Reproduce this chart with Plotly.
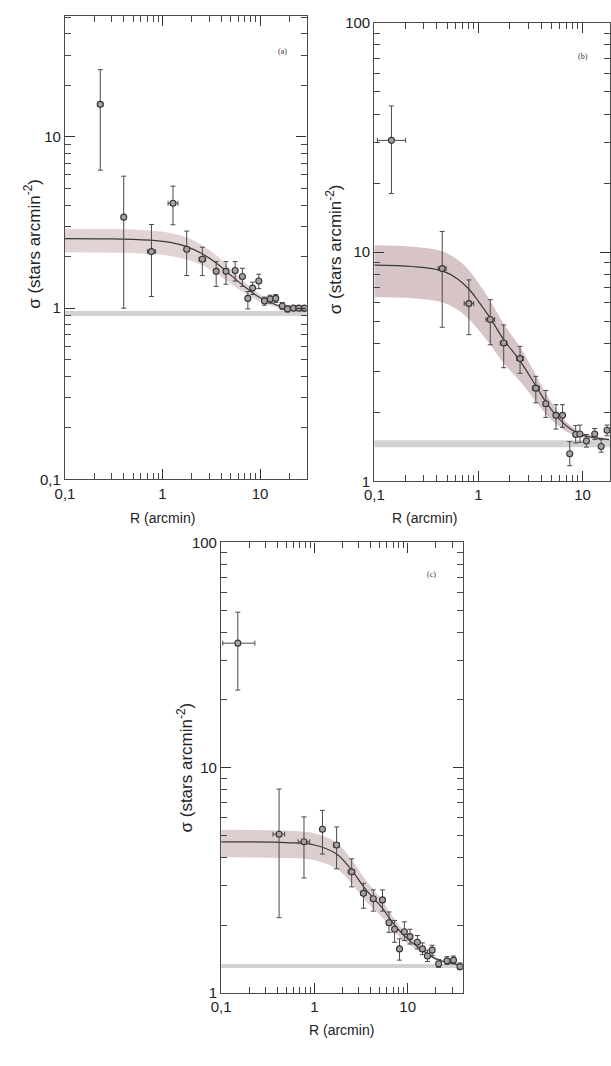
import plotly.graph_objects as go

W, H = 611, 1066

# ---------------- Panel (a) ----------------
a_R     = [0.23, 0.40, 0.77, 1.28, 1.77, 2.56, 3.55, 4.47, 5.56, 6.6, 7.5, 8.4, 9.7, 11.1, 12.7, 14.5, 16.9, 19.1, 22.0, 24.9, 28.6]
a_R_lo  = [0.215, 0.40, 0.70, 1.14, 1.68, 2.37, 3.35, 4.25, 5.3, 6.35, 7.2, 8.05, 9.3, 10.7, 12.2, 14.0, 16.3, 18.5, 21.2, 24.0, 27.6]
a_R_hi  = [0.245, 0.40, 0.85, 1.44, 1.87, 2.77, 3.75, 4.7, 5.8, 6.85, 7.8, 8.75, 10.1, 11.5, 13.2, 15.0, 17.5, 19.7, 22.8, 25.8, 29.6]
a_S     = [15.5, 3.4, 2.14, 4.1, 2.21, 1.93, 1.64, 1.64, 1.66, 1.53, 1.14, 1.31, 1.44, 1.10, 1.13, 1.14, 1.03, 0.99, 1.00, 1.00, 1.00]
a_S_hi  = [24.7, 5.9, 3.08, 5.16, 2.82, 2.27, 1.87, 1.87, 1.87, 1.71, 1.25, 1.42, 1.58, 1.16, 1.19, 1.20, 1.08, 1.03, 1.03, 1.03, 1.03]
a_S_lo  = [6.4, 1.0, 1.17, 3.07, 1.55, 1.55, 1.34, 1.38, 1.44, 1.34, 0.99, 1.20, 1.30, 1.04, 1.07, 1.08, 0.98, 0.95, 0.97, 0.97, 0.97]
a_bg = 0.93
a_fit_R  = [0.1, 0.3, 0.5, 0.8, 1.2, 1.8, 2.5, 3.5, 5, 7, 10, 15, 20, 30]
a_fit    = [2.55, 2.54, 2.52, 2.49, 2.42, 2.28, 2.09, 1.85, 1.56, 1.33, 1.15, 1.04, 0.99, 0.96]
a_fit_up = [2.91, 2.90, 2.88, 2.83, 2.75, 2.58, 2.35, 2.05, 1.70, 1.42, 1.20, 1.06, 1.01, 0.96]
a_fit_dn = [2.12, 2.11, 2.10, 2.07, 2.02, 1.92, 1.79, 1.60, 1.39, 1.22, 1.09, 1.01, 0.98, 0.95]

# ---------------- Panel (b) ----------------
b_R     = [0.146, 0.449, 0.81, 1.30, 1.75, 2.51, 3.56, 4.44, 5.56, 6.43, 7.54, 8.6, 9.44, 10.9, 13.1, 15.1, 17.2]
b_R_lo  = [0.107, 0.41, 0.73, 1.18, 1.62, 2.33, 3.30, 4.20, 5.30, 6.2, 7.54, 8.3, 9.1, 10.5, 12.7, 14.7, 16.7]
b_R_hi  = [0.200, 0.49, 0.90, 1.43, 1.88, 2.70, 3.85, 4.70, 5.80, 6.7, 7.54, 8.9, 9.8, 11.3, 13.5, 15.5, 17.7]
b_S     = [30.7, 8.47, 5.96, 5.08, 4.01, 3.43, 2.55, 2.18, 1.94, 1.94, 1.32, 1.60, 1.61, 1.50, 1.61, 1.42, 1.67]
b_S_hi  = [43.4, 12.3, 7.56, 6.2, 4.81, 3.88, 2.87, 2.49, 2.16, 2.16, 1.49, 1.75, 1.76, 1.60, 1.70, 1.52, 1.76]
b_S_lo  = [18.0, 4.7, 4.36, 3.94, 3.13, 2.96, 2.20, 1.90, 1.69, 1.72, 1.17, 1.47, 1.48, 1.41, 1.52, 1.34, 1.58]
b_bg = 1.46
b_fit_R  = [0.1, 0.233, 0.449, 0.64, 0.81, 1.0, 1.3, 1.75, 2.51, 3.56, 4.44, 5.56, 7.54, 10, 18]
b_fit    = [8.77, 8.65, 8.28, 7.6, 6.9, 6.1, 5.15, 4.15, 3.35, 2.61, 2.22, 1.94, 1.70, 1.59, 1.52]
b_fit_up = [10.70, 10.55, 10.08, 9.22, 8.34, 7.33, 6.13, 4.86, 3.85, 2.91, 2.42, 2.07, 1.76, 1.63, 1.54]
b_fit_dn = [6.37, 6.29, 6.04, 5.58, 5.11, 4.58, 3.94, 3.27, 2.73, 2.23, 1.97, 1.78, 1.62, 1.55, 1.50]

# ---------------- Panel (c) ----------------
c_R     = [0.151, 0.418, 0.773, 1.22, 1.73, 2.51, 3.36, 4.28, 5.37, 6.31, 7.24, 8.17, 9.22, 10.6, 12.7, 14.4, 16.3, 18.3, 21.5, 26.4, 31.0, 36.4]
c_R_lo  = [0.104, 0.36, 0.67, 1.16, 1.60, 2.30, 3.15, 4.05, 5.1, 6.05, 7.0, 7.9, 8.9, 10.2, 12.3, 14.0, 15.8, 17.8, 20.8, 25.6, 30.0, 35.3]
c_R_hi  = [0.230, 0.48, 0.89, 1.28, 1.85, 2.70, 3.55, 4.5, 5.65, 6.6, 7.5, 8.45, 9.55, 11.0, 13.1, 14.8, 16.8, 18.8, 22.2, 27.2, 32.0, 37.5]
c_S     = [35.7, 5.07, 4.69, 5.33, 4.54, 3.45, 2.77, 2.62, 2.59, 2.05, 1.92, 1.57, 1.87, 1.78, 1.68, 1.57, 1.46, 1.55, 1.35, 1.39, 1.40, 1.31]
c_S_hi  = [49.0, 8.04, 6.05, 6.47, 5.46, 3.94, 3.07, 2.87, 2.87, 2.29, 2.10, 1.74, 2.07, 1.92, 1.80, 1.67, 1.55, 1.63, 1.41, 1.45, 1.46, 1.36]
c_S_lo  = [22.1, 2.16, 3.24, 4.14, 3.56, 2.96, 2.38, 2.31, 2.31, 1.86, 1.68, 1.40, 1.71, 1.65, 1.57, 1.48, 1.38, 1.47, 1.30, 1.34, 1.35, 1.27]
c_bg = 1.32
c_fit_R  = [0.1, 0.5, 1, 1.73, 2.51, 3.36, 4.28, 5.37, 6.31, 8.17, 10, 14.4, 20, 30, 39]
c_fit    = [4.69, 4.65, 4.54, 4.14, 3.51, 2.97, 2.64, 2.38, 2.16, 1.89, 1.74, 1.55, 1.42, 1.35, 1.33]
c_fit_up = [5.30, 5.25, 5.12, 4.65, 3.91, 3.27, 2.88, 2.57, 2.31, 1.99, 1.82, 1.59, 1.44, 1.36, 1.33]
c_fit_dn = [4.00, 3.97, 3.88, 3.56, 3.06, 2.63, 2.37, 2.16, 1.99, 1.77, 1.66, 1.50, 1.40, 1.34, 1.33]

# tick labels
x_tickvals = [0.1, 1, 10]
x_ticktext = ["0,1", "1", "10"]
a_y_tickvals = [0.1, 1, 10]
a_y_ticktext = ["0,1", "1", "10"]
bc_y_tickvals = [1, 10, 100]
bc_y_ticktext = ["1", "10", "100"]
minor_tickvals = [0.2, 0.3, 0.4, 0.5, 0.6, 0.7, 0.8, 0.9,
                  2, 3, 4, 5, 6, 7, 8, 9,
                  20, 30, 40, 50, 60, 70, 80, 90]

panel_labels = ["(a)", "(b)", "(c)"]
x_title = "R (arcmin)"
y_title = "σ (stars arcmin<sup>-2</sup>)"

# ---------------- layout geometry (pixels) ----------------
def px_x(p):
    return p / W

def px_y(p):
    return 1 - p / H

panels = [
    dict(ax="", mx="4", R=a_R, Rlo=a_R_lo, Rhi=a_R_hi, S=a_S, Shi=a_S_hi, Slo=a_S_lo, bg=a_bg,
         fR=a_fit_R, f=a_fit, fu=a_fit_up, fd=a_fit_dn,
         xdom=[px_x(56), px_x(302)], ydom=[px_y(478), px_y(7)],
         xr=[-1, 1.477], yr=[-1, 1.707], ytv=a_y_tickvals, ytt=a_y_ticktext,
         band="#e2d4d5", bgw=5,
         lab=(277, 43), xt=(155, 517), yt=(23, 239)),
    dict(ax="2", mx="5", R=b_R, Rlo=b_R_lo, Rhi=b_R_hi, S=b_S, Shi=b_S_hi, Slo=b_S_lo, bg=b_bg,
         fR=b_fit_R, f=b_fit, fu=b_fit_up, fd=b_fit_dn,
         xdom=[px_x(371), 1.0], ydom=[px_y(480), px_y(14)],
         xr=[-1, 1.264], yr=[0, 2], ytv=bc_y_tickvals, ytt=bc_y_ticktext,
         band="#d6c4c6", bgw=7,
         lab=(583, 48), xt=(422, 517), yt=(330, 244)),
    dict(ax="3", mx="6", R=c_R, Rlo=c_R_lo, Rhi=c_R_hi, S=c_S, Shi=c_S_hi, Slo=c_S_lo, bg=c_bg,
         fR=c_fit_R, f=c_fit, fu=c_fit_up, fd=c_fit_dn,
         xdom=[px_x(215), px_x(461)], ydom=[px_y(1000), px_y(542)],
         xr=[-1, 1.59], yr=[0, 2], ytv=bc_y_tickvals, ytt=bc_y_ticktext,
         band="#dccdce", bgw=4,
         lab=(429, 575), xt=(338, 1038), yt=(178, 771)),
]

fig = go.Figure()
shapes = []
annotations = []
font_main = "Liberation Sans, Arial, sans-serif"

for i, p in enumerate(panels):
    xa = "x" + p["ax"]
    ya = "y" + p["ax"]
    mxa = "x" + p["mx"]
    mya = "y" + p["mx"]
    # confidence band
    fig.add_trace(go.Scatter(x=p["fR"], y=p["fd"], mode="lines", line=dict(width=0, shape="spline"),
                             xaxis=xa, yaxis=ya, showlegend=False, hoverinfo="skip"))
    fig.add_trace(go.Scatter(x=p["fR"], y=p["fu"], mode="lines", line=dict(width=0, shape="spline"),
                             fill="tonexty", fillcolor=p["band"],
                             xaxis=xa, yaxis=ya, showlegend=False, hoverinfo="skip"))
    # fit line
    fig.add_trace(go.Scatter(x=p["fR"], y=p["f"], mode="lines",
                             line=dict(color="#3a3a3a", width=1.2, shape="spline"),
                             xaxis=xa, yaxis=ya, showlegend=False))
    # data points
    ep = [h - s for h, s in zip(p["Shi"], p["S"])]
    em = [s - l for s, l in zip(p["S"], p["Slo"])]
    xp = [h - r for h, r in zip(p["Rhi"], p["R"])]
    xm = [r - l for r, l in zip(p["R"], p["Rlo"])]
    fig.add_trace(go.Scatter(
        x=p["R"], y=p["S"], mode="markers",
        marker=dict(symbol="circle", size=6, color="#a9a1a1", line=dict(color="#333333", width=1.1)),
        error_y=dict(type="data", array=ep, arrayminus=em, symmetric=False,
                     color="#4a4a4a", thickness=1, width=2.5),
        error_x=dict(type="data", array=xp, arrayminus=xm, symmetric=False,
                     color="#4a4a4a", thickness=1, width=2.5),
        xaxis=xa, yaxis=ya, showlegend=False))
    # empty trace so the minor-tick overlay axes get drawn
    fig.add_trace(go.Scatter(x=[], y=[], mode="markers", xaxis=mxa, yaxis=mya,
                             showlegend=False, hoverinfo="skip"))
    # background level
    shapes.append(dict(type="line", xref=xa + " domain", yref=ya, x0=0, x1=1,
                       y0=p["bg"], y1=p["bg"], line=dict(color="#d2d2d2", width=p["bgw"]),
                       layer="below"))
    # main axes (major ticks + labels)
    axis_common = dict(type="log", showgrid=False, zeroline=False, showline=True,
                       linecolor="#4a4a4a", linewidth=1.3, mirror="ticks",
                       ticks="inside", tickcolor="#333333", ticklen=10, tickwidth=1.3,
                       tickfont=dict(family=font_main, size=15, color="#222222"))
    # overlay axes carrying the minor ticks
    minor_common = dict(type="log", showgrid=False, zeroline=False, showline=False,
                        mirror="ticks", ticks="inside", tickcolor="#444444", ticklen=6, tickwidth=1.2,
                        showticklabels=False, tickmode="array", tickvals=minor_tickvals)
    fig.update_layout(**{
        "xaxis" + p["ax"]: dict(axis_common, domain=p["xdom"], range=p["xr"], anchor=ya,
                                tickmode="array", tickvals=x_tickvals, ticktext=x_ticktext),
        "yaxis" + p["ax"]: dict(axis_common, domain=p["ydom"], range=p["yr"], anchor=xa,
                                tickmode="array", tickvals=p["ytv"], ticktext=p["ytt"]),
        "xaxis" + p["mx"]: dict(minor_common, domain=p["xdom"], range=p["xr"], anchor=mya,
                                overlaying=xa),
        "yaxis" + p["mx"]: dict(minor_common, domain=p["ydom"], range=p["yr"], anchor=mxa,
                                overlaying=ya),
    })
    # texts
    lx, ly = p["lab"]
    annotations.append(dict(text=panel_labels[i], x=px_x(lx), y=px_y(ly), xref="paper", yref="paper",
                            showarrow=False, font=dict(family="Liberation Serif, serif", size=8, color="#333"),
                            xanchor="center", yanchor="middle"))
    tx, ty = p["xt"]
    annotations.append(dict(text=x_title, x=px_x(tx), y=px_y(ty), xref="paper", yref="paper",
                            showarrow=False, font=dict(family=font_main, size=14, color="#222"),
                            xanchor="center", yanchor="middle"))
    yx, yy = p["yt"]
    annotations.append(dict(text=y_title, x=px_x(yx), y=px_y(yy), xref="paper", yref="paper",
                            showarrow=False, textangle=-90,
                            font=dict(family=font_main, size=17, color="#222"),
                            xanchor="center", yanchor="middle"))

fig.update_layout(width=W, height=H, margin=dict(l=0, r=0, t=0, b=0),
                  paper_bgcolor="white", plot_bgcolor="white",
                  shapes=shapes, annotations=annotations, showlegend=False)

fig.write_html("out.html")
